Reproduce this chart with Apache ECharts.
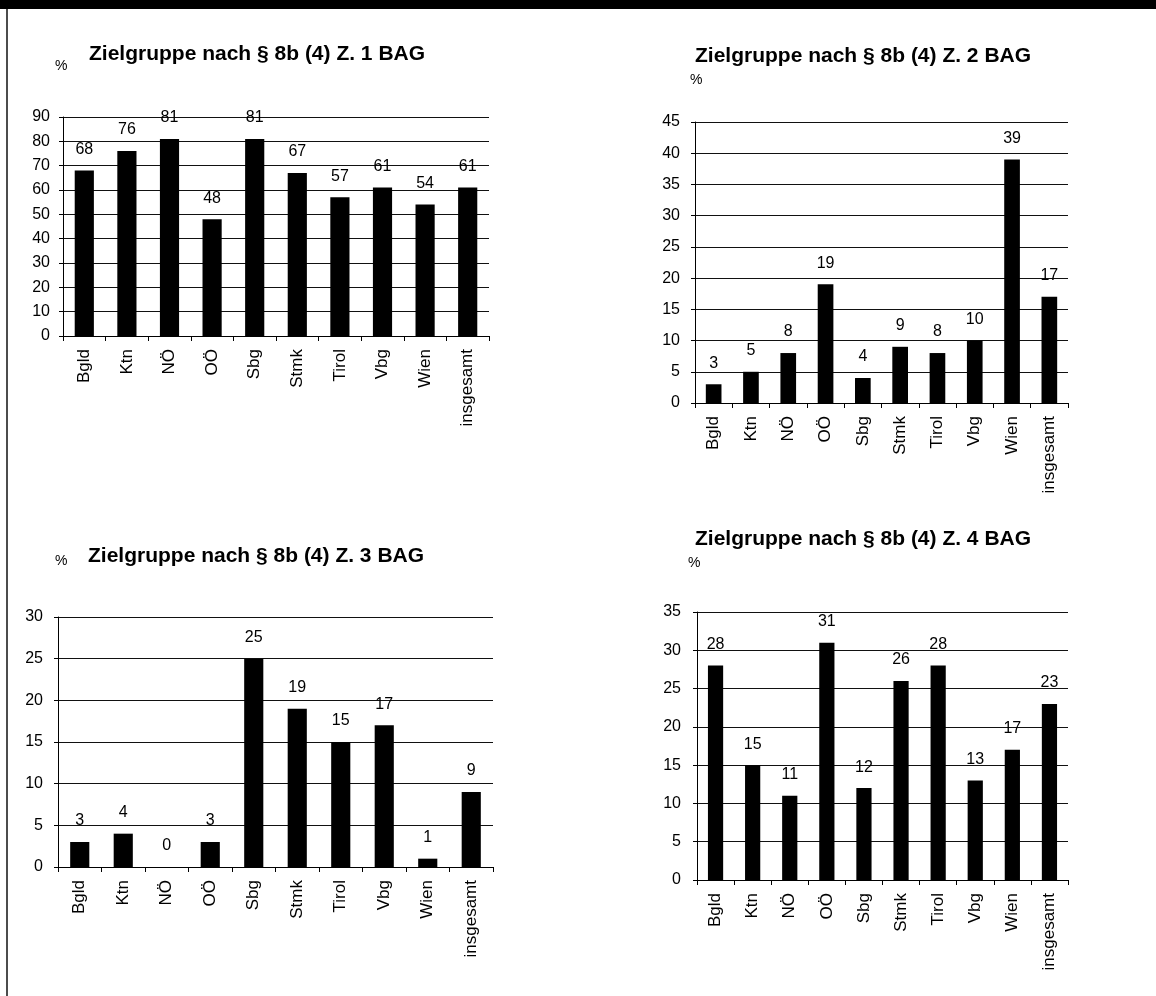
<!DOCTYPE html>
<html>
<head>
<meta charset="utf-8">
<title>Zielgruppen nach § 8b (4) BAG</title>
<script src="https://cdn.jsdelivr.net/npm/echarts@6/dist/echarts.min.js"></script>
<style>
  html, body { margin: 0; padding: 0; background: #fff; }
  #chart { width: 1156px; height: 996px; }
</style>
</head>
<body>
<div id="chart"></div>
<script>
// Bundesländer plus Gesamtwert
const categories = ['Bgld', 'Ktn', 'NÖ', 'OÖ', 'Sbg', 'Stmk', 'Tirol', 'Vbg', 'Wien', 'insgesamt'];

// Anteile in % je Zielgruppe (Z. 1 bis Z. 4)
const z1Values = [68, 76, 81, 48, 81, 67, 57, 61, 54, 61];
const z2Values = [3, 5, 8, 19, 4, 9, 8, 10, 39, 17];
const z3Values = [3, 4, 0, 3, 25, 19, 15, 17, 1, 9];
const z4Values = [28, 15, 11, 31, 12, 26, 28, 13, 17, 23];

const chartTitles = [
  'Zielgruppe nach § 8b (4) Z. 1 BAG',
  'Zielgruppe nach § 8b (4) Z. 2 BAG',
  'Zielgruppe nach § 8b (4) Z. 3 BAG',
  'Zielgruppe nach § 8b (4) Z. 4 BAG'
];
const unitLabel = '%';

// Achsenbereich je Diagramm
const yMax = [90, 45, 30, 35];
const yStep = [10, 5, 5, 5];

const seriesValues = [z1Values, z2Values, z3Values, z4Values];

const FONT = '"Liberation Sans", Arial, Helvetica, sans-serif';

// Layout der vier Diagramme
const panels = [
  { grid: { left: 63, top: 117, width: 426, height: 219 }, barWidth: '45%', yMargin: 13,
    title: { left: 89, top: 44 }, unit: { left: 55, top: 59 } },
  { grid: { left: 695, top: 122, width: 373, height: 281 }, barWidth: '42%', yMargin: 15,
    title: { left: 695, top: 46 }, unit: { left: 690, top: 73 } },
  { grid: { left: 58, top: 617, width: 435, height: 250 }, barWidth: '44%', yMargin: 15,
    title: { left: 88, top: 546 }, unit: { left: 55, top: 554 } },
  { grid: { left: 697, top: 612, width: 371, height: 268 }, barWidth: '41%', yMargin: 16,
    title: { left: 695, top: 529 }, unit: { left: 688, top: 556 } }
];

const option = {
  backgroundColor: '#fff',
  animation: false,
  title: [],
  grid: [],
  xAxis: [],
  yAxis: [],
  series: [],
  graphic: [
    // Rahmen: schwarzer Balken oben, Linie links
    { type: 'rect', shape: { x: 0, y: 0, width: 1156, height: 9 }, style: { fill: '#000' } },
    { type: 'line', shape: { x1: 7, y1: 9, x2: 7, y2: 996 }, style: { stroke: '#111', lineWidth: 1.5 } }
  ]
};

panels.forEach((p, i) => {
  option.title.push({
    text: chartTitles[i], left: p.title.left, top: p.title.top, padding: 0,
    textStyle: { fontFamily: FONT, fontSize: 21, fontWeight: 'bold', color: '#000' }
  });
  option.title.push({
    text: unitLabel, left: p.unit.left, top: p.unit.top, padding: 0,
    textStyle: { fontFamily: FONT, fontSize: 14, fontWeight: 'normal', color: '#000' }
  });
  option.grid.push(Object.assign({ containLabel: false }, p.grid));
  option.xAxis.push({
    type: 'category', gridIndex: i, data: categories, boundaryGap: true,
    axisLine: { show: true, lineStyle: { color: '#000', width: 1 } },
    axisTick: { show: true, length: 5, lineStyle: { color: '#000' } },
    axisLabel: { rotate: 90, margin: 13, interval: 0, color: '#000', fontFamily: FONT, fontSize: 17 },
    splitLine: { show: false }
  });
  option.yAxis.push({
    type: 'value', gridIndex: i, min: 0, max: yMax[i], interval: yStep[i],
    axisLine: { show: true, lineStyle: { color: '#000', width: 1 } },
    axisTick: { show: true, length: 4, lineStyle: { color: '#000' } },
    axisLabel: { margin: p.yMargin, color: '#000', fontFamily: FONT, fontSize: 16 },
    splitLine: { show: true, lineStyle: { color: '#111', width: 1 } }
  });
  option.series.push({
    type: 'bar', xAxisIndex: i, yAxisIndex: i, data: seriesValues[i],
    barWidth: p.barWidth,
    itemStyle: { color: '#000' },
    label: {
      show: true, position: 'top', distance: 13, color: '#000',
      fontFamily: FONT, fontSize: 16
    }
  });
});

const chart = echarts.init(document.getElementById('chart'), null, { renderer: 'canvas' });
chart.setOption(option);
</script>
</body>
</html>
